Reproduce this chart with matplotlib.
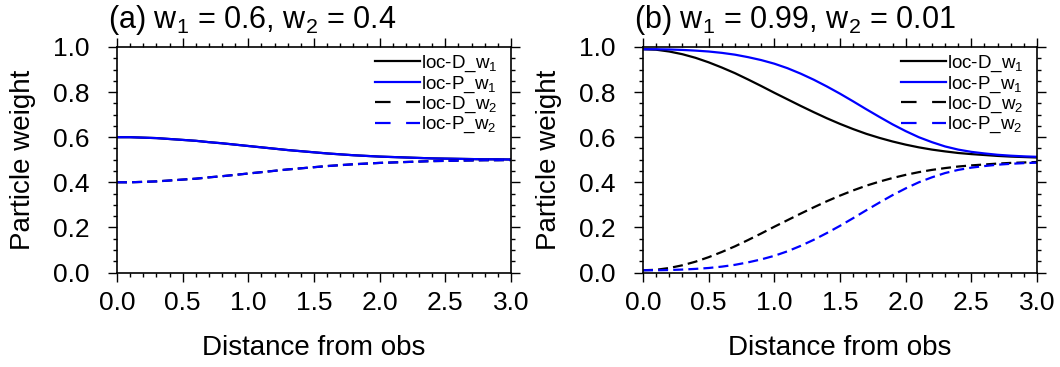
#!/usr/bin/env python3

"""Particle weight vs distance from obs, two panels (NCL look)"""

import matplotlib
matplotlib.use("Agg")
import matplotlib.pyplot as plt
from matplotlib.lines import Line2D
from matplotlib.ticker import MultipleLocator

plt.rcParams['font.family'] = ['Liberation Sans', 'DejaVu Sans']
plt.rcParams['mathtext.fontset'] = 'custom'
plt.rcParams['mathtext.rm'] = 'Liberation Sans'

# distance from obs, every 0.1
dist = [0.0, 0.1, 0.2, 0.3, 0.4, 0.5, 0.6, 0.7, 0.8, 0.9, 1.0,
        1.1, 1.2, 1.3, 1.4, 1.5, 1.6, 1.7, 1.8, 1.9, 2.0,
        2.1, 2.2, 2.3, 2.4, 2.5, 2.6, 2.7, 2.8, 2.9, 3.0]

# (a) w1 = 0.6, w2 = 0.4  (loc-D and loc-P lie on top of each other)
a_locD_w1 = [0.600, 0.600, 0.598, 0.596, 0.592, 0.588, 0.584, 0.578, 0.573, 0.567, 0.561,
             0.555, 0.549, 0.543, 0.538, 0.533, 0.528, 0.524, 0.520, 0.517, 0.514,
             0.512, 0.510, 0.508, 0.506, 0.505, 0.504, 0.503, 0.502, 0.502, 0.501]
a_locP_w1 = [0.600, 0.600, 0.598, 0.596, 0.592, 0.588, 0.584, 0.578, 0.573, 0.567, 0.561,
             0.555, 0.549, 0.543, 0.538, 0.533, 0.528, 0.524, 0.520, 0.517, 0.514,
             0.512, 0.510, 0.508, 0.506, 0.505, 0.504, 0.503, 0.502, 0.502, 0.501]
a_locD_w2 = [0.400, 0.400, 0.402, 0.404, 0.408, 0.412, 0.416, 0.422, 0.427, 0.433, 0.439,
             0.445, 0.451, 0.457, 0.462, 0.467, 0.472, 0.476, 0.480, 0.483, 0.486,
             0.488, 0.490, 0.492, 0.494, 0.495, 0.496, 0.497, 0.498, 0.498, 0.499]
a_locP_w2 = [0.400, 0.400, 0.402, 0.404, 0.408, 0.412, 0.416, 0.422, 0.427, 0.433, 0.439,
             0.445, 0.451, 0.457, 0.462, 0.467, 0.472, 0.476, 0.480, 0.483, 0.486,
             0.488, 0.490, 0.492, 0.494, 0.495, 0.496, 0.497, 0.498, 0.498, 0.499]

# (b) w1 = 0.99, w2 = 0.01
b_locD_w1 = [0.990, 0.988, 0.980, 0.968, 0.952, 0.932, 0.909, 0.884, 0.856, 0.827, 0.797,
             0.768, 0.739, 0.711, 0.684, 0.659, 0.636, 0.615, 0.597, 0.581, 0.567,
             0.555, 0.545, 0.537, 0.530, 0.525, 0.521, 0.517, 0.514, 0.512, 0.510]
b_locP_w1 = [0.990, 0.990, 0.989, 0.987, 0.984, 0.980, 0.974, 0.966, 0.955, 0.942, 0.926,
             0.906, 0.882, 0.855, 0.825, 0.793, 0.759, 0.724, 0.690, 0.657, 0.627,
             0.600, 0.578, 0.559, 0.545, 0.535, 0.528, 0.522, 0.518, 0.515, 0.513]
b_locD_w2 = [0.010, 0.012, 0.020, 0.032, 0.048, 0.068, 0.091, 0.116, 0.144, 0.173, 0.203,
             0.232, 0.261, 0.289, 0.316, 0.341, 0.364, 0.385, 0.403, 0.419, 0.433,
             0.445, 0.455, 0.463, 0.470, 0.475, 0.479, 0.483, 0.486, 0.488, 0.490]
b_locP_w2 = [0.010, 0.010, 0.011, 0.013, 0.016, 0.020, 0.026, 0.034, 0.045, 0.058, 0.074,
             0.094, 0.118, 0.145, 0.175, 0.207, 0.241, 0.276, 0.310, 0.343, 0.373,
             0.400, 0.422, 0.441, 0.455, 0.465, 0.472, 0.478, 0.482, 0.485, 0.487]

titles = [r"(a) w$\mathregular{_1}$ = 0.6, w$\mathregular{_2}$ = 0.4",
          r"(b) w$\mathregular{_1}$ = 0.99, w$\mathregular{_2}$ = 0.01"]
labels = [r"loc-D_w$\mathregular{_1}$", r"loc-P_w$\mathregular{_1}$",
          r"loc-D_w$\mathregular{_2}$", r"loc-P_w$\mathregular{_2}$"]

W, H = 1060, 367
LW = 1.6
PLOT_DASH = (4.5, 2.3)
LEG_DASH = (7.0, 7.0)


def draw_panel(fig, left_px, title, series):
    ax = fig.add_axes([left_px / W, 1 - 272.5 / H, 394 / W, 225.5 / H])
    styles = [("black", None), ("blue", None), ("black", PLOT_DASH), ("blue", PLOT_DASH)]
    for ys, (col, dash) in zip(series, styles):
        line, = ax.plot(dist, ys, color=col, lw=LW)
        if dash is not None:
            line.set_dashes(dash)

    ax.set_xlim(0, 3)
    ax.set_ylim(0, 1)
    ax.xaxis.set_major_locator(MultipleLocator(0.5))
    ax.xaxis.set_minor_locator(MultipleLocator(0.1))
    ax.yaxis.set_major_locator(MultipleLocator(0.2))
    ax.yaxis.set_minor_locator(MultipleLocator(0.05))
    ax.xaxis.set_major_formatter("{x:.1f}")
    ax.yaxis.set_major_formatter("{x:.1f}")
    ax.tick_params(which="both", direction="out", top=True, right=True, width=1.0)
    ax.tick_params(which="major", length=6.5, labelsize=19)
    ax.tick_params(axis="x", which="major", pad=7)
    ax.tick_params(axis="y", which="major", pad=13)
    ax.tick_params(which="minor", length=3)
    for sp in ax.spines.values():
        sp.set_linewidth(1.2)

    handles = []
    for col, dash in [("black", None), ("blue", None), ("black", LEG_DASH), ("blue", LEG_DASH)]:
        h = Line2D([0], [0], color=col, lw=LW)
        if dash is not None:
            h.set_dashes(dash)
        handles.append(h)
    ax.legend(handles, labels, loc="upper right", bbox_to_anchor=(0.965, 0.97),
              frameon=False, fontsize=13.5, handlelength=2.4, handletextpad=0.05,
              labelspacing=0.0, borderaxespad=0, borderpad=0)

    fig.text((left_px - 9) / W, 1 - 20 / H, title, fontsize=22, ha="left", va="center")
    fig.text((left_px - 94) / W, 1 - 160 / H, "Particle weight", fontsize=20,
             rotation=90, ha="center", va="center")
    fig.text((left_px + 197) / W, 1 - 348 / H, "Distance from obs", fontsize=20,
             ha="center", va="center")
    return ax


def main():
    fig = plt.figure(figsize=(W / 100, H / 100), dpi=100)
    draw_panel(fig, 117, titles[0], [a_locD_w1, a_locP_w1, a_locD_w2, a_locP_w2])
    draw_panel(fig, 643, titles[1], [b_locD_w1, b_locP_w1, b_locD_w2, b_locP_w2])
    fig.savefig("out.png", dpi=100)


if __name__ == "__main__":
    main()
